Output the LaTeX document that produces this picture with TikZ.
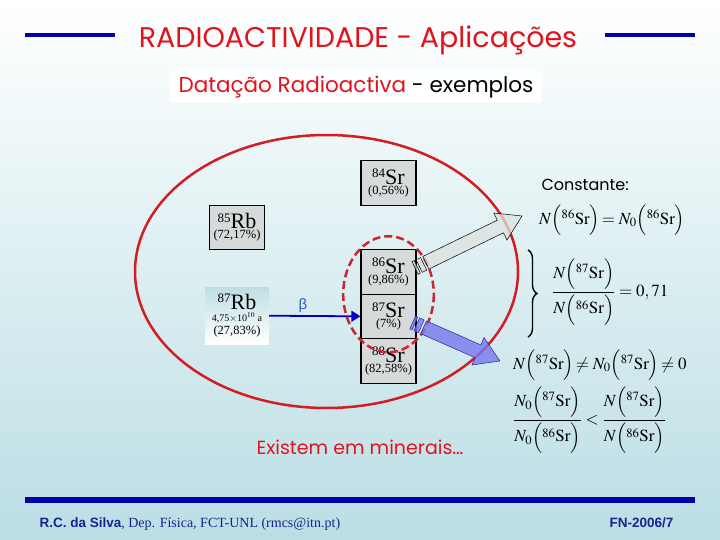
\documentclass[tikz,border=0pt]{standalone}
\usepackage{amsmath}
\usepackage{mathptmx}
\usepackage{fontspec}
\setmainfont{Liberation Serif}
\newfontfamily\comicf{Poppins}
\newfontfamily\arialf{Liberation Sans}
\usetikzlibrary{arrows.meta, positioning, calc, decorations.pathreplacing}

\definecolor{titlered}{RGB}{225,20,30}
\definecolor{rulerblue}{RGB}{0,0,170}
\definecolor{bgcyan}{RGB}{186,222,228}
\definecolor{boxgray}{RGB}{214,218,218}
\definecolor{ringred}{RGB}{210,30,35}
\definecolor{dashred}{RGB}{200,40,45}
\definecolor{decayblue}{RGB}{0,0,200}
\definecolor{betablue}{RGB}{40,90,200}
\definecolor{footblue}{RGB}{25,35,140}
\definecolor{stripgray}{RGB}{222,224,224}
\definecolor{stripblue}{RGB}{120,120,240}
\definecolor{stripedge}{RGB}{40,40,150}
\definecolor{rbcyan}{RGB}{190,222,226}

\newcommand{\iso}[2]{{\fontsize{22}{22}\selectfont\raisebox{6.5pt}{\fontsize{13}{13}\selectfont #1}#2}}
\newcommand{\pct}[1]{{\fontsize{12.5}{12.5}\selectfont #1}}
\newcommand{\striparrow}[3]{%
  \draw[#1] let \p1=($(#3)-(#2)$), \n1={atan2(\y1,\x1)}, \n2={veclen(\x1,\y1)} in
    [shift={(#2)}, rotate=\n1]
    (0pt,-7pt) rectangle (2.5pt,7pt)
    (4.5pt,-7pt) rectangle (9.5pt,7pt)
    (12pt,-7pt) -- ({\n2-24pt},-7pt) -- ({\n2-24pt},-15pt) -- (\n2,0pt)
    -- ({\n2-24pt},15pt) -- ({\n2-24pt},7pt) -- (12pt,7pt) -- cycle;}

\begin{document}
\begin{tikzpicture}[x=1pt, y=-1pt,
    isobox/.style={draw=black, line width=1.2pt, fill=boxgray, minimum width=55pt, minimum height=44.5pt, inner sep=0pt, align=center},
    rbbox/.style={top color=rbcyan, bottom color=white, minimum width=64pt, minimum height=57pt, inner sep=0pt, align=center},
    decay/.style={draw=decayblue, line width=1.8pt, -{Triangle[length=9pt, width=11pt]}},
    eqn/.style={anchor=west, inner sep=0pt, font=\fontsize{17}{20}\selectfont},
    graystrip/.style={draw=black, line width=0.5pt, fill=stripgray, fill opacity=0.75},
    bluestrip/.style={draw=stripedge, line width=0.5pt, fill=stripblue, fill opacity=0.8}
  ]
  \useasboundingbox (0,0) rectangle (720,540);
  \shade[top color=white, bottom color=bgcyan] (0,0) rectangle (720,540);

  \draw[rulerblue, line width=4pt] (25,35) -- (115,35);
  \draw[rulerblue, line width=4pt] (605,35) -- (695,35);
  \node[text=titlered, font=\comicf\fontsize{28.5}{28.5}\selectfont] (title) at (358,40) {RADIOACTIVIDADE - Aplicações};
  \node[fill=white, minimum width=372pt, minimum height=32pt, font=\comicf\fontsize{21.5}{21.5}\selectfont] (sub) at (356,87) {\textcolor{titlered}{Datação Radioactiva} - exemplos};

  \draw[ringred, line width=2.5pt] (326.5,271.5) ellipse [x radius=191.5, y radius=136.5];

  \node[isobox] (sr84) at (388.5,183) {\iso{84}{Sr}\\[-2pt] \pct{(0,56\%)}};
  \node[isobox] (rb85) at (237,227.5) {\iso{85}{Rb}\\[-2pt] \pct{(72,17\%)}};
  \node[isobox] (sr86) at (388.5,272) {\iso{86}{Sr}\\[-2pt] \pct{(9,86\%)}};
  \node[isobox, below=-1.2pt of sr86] (sr87) {\iso{87}{Sr}\\[-2pt] \pct{(7\%)}};
  \node[isobox, below=-1.2pt of sr87] (sr88) {\iso{88}{Sr}\\[-2pt] \pct{(82,58\%)}};
  \node[rbbox] (rb87) at (237,315.5) {\iso{87}{Rb}\\[0pt] {\fontsize{10}{11}\selectfont 4,75$\times$10$^{10}$ a}\\[1pt] \pct{(27,83\%)}};

  \draw[decay] (rb87) -- (sr87) node[pos=0.37, above=1pt, inner sep=1pt, text=betablue, font=\arialf\fontsize{15}{15}\selectfont] (beta) {β};

  \draw[dashred, line width=2.5pt, dash pattern=on 8pt off 4pt] ($(sr86)!0.5!(sr87)$) ellipse [x radius=45.3, y radius=58];

  \coordinate (gtail) at ($(sr86.east)+(-1.5,-4)$);
  \coordinate (gtip) at (522,216);
  \coordinate (btail) at ($(sr87.east)+(-4,6)$);
  \coordinate (btip) at (500,361);
  \striparrow{graystrip}{gtail}{gtip}
  \striparrow{bluestrip}{btail}{btip}

  \node[anchor=base west, font=\comicf\fontsize{16}{16}\selectfont] (const) at (538,191) {Constante:};
  \node[eqn] (eq1) at (539,220) {$N\Bigl({}^{86}\mathrm{Sr}\Bigr)\!=N_0\Bigl({}^{86}\mathrm{Sr}\Bigr)$};
  \draw[line width=1.4pt, decorate, decoration={brace, amplitude=9pt}] (528,250) -- (528,337);
  \node[eqn] (eq2) at (552,292) {$\dfrac{N\Bigl({}^{87}\mathrm{Sr}\Bigr)}{N\Bigl({}^{86}\mathrm{Sr}\Bigr)}=0,71$};
  \node[eqn] (eq3) at (513,365) {$N\Bigl({}^{87}\mathrm{Sr}\Bigr)\!\neq N_0\Bigl({}^{87}\mathrm{Sr}\Bigr)\!\neq 0$};
  \node[eqn] (eq4) at (513,420) {$\dfrac{N_0\Bigl({}^{87}\mathrm{Sr}\Bigr)}{N_0\Bigl({}^{86}\mathrm{Sr}\Bigr)}<\dfrac{N\Bigl({}^{87}\mathrm{Sr}\Bigr)}{N\Bigl({}^{86}\mathrm{Sr}\Bigr)}$};

  \node[anchor=base, text=titlered, font=\comicf\fontsize{19}{19}\selectfont] (minerais) at (360,454) {Existem em minerais…};

  \draw[rulerblue, line width=6pt] (25,500) -- (695,500);
  \node[anchor=base west, text=footblue, font=\fontsize{14}{14}\selectfont] (author) at (36,527) {{\arialf\bfseries\fontsize{13.5}{13.5}\selectfont R.C. da Silva}, Dep. Física, FCT-UNL (rmcs@itn.pt)};
  \node[anchor=base east, text=footblue, font=\arialf\bfseries\fontsize{13.5}{13.5}\selectfont] (fn) at (677,527) {FN-2006/7};
\end{tikzpicture}
\end{document}
